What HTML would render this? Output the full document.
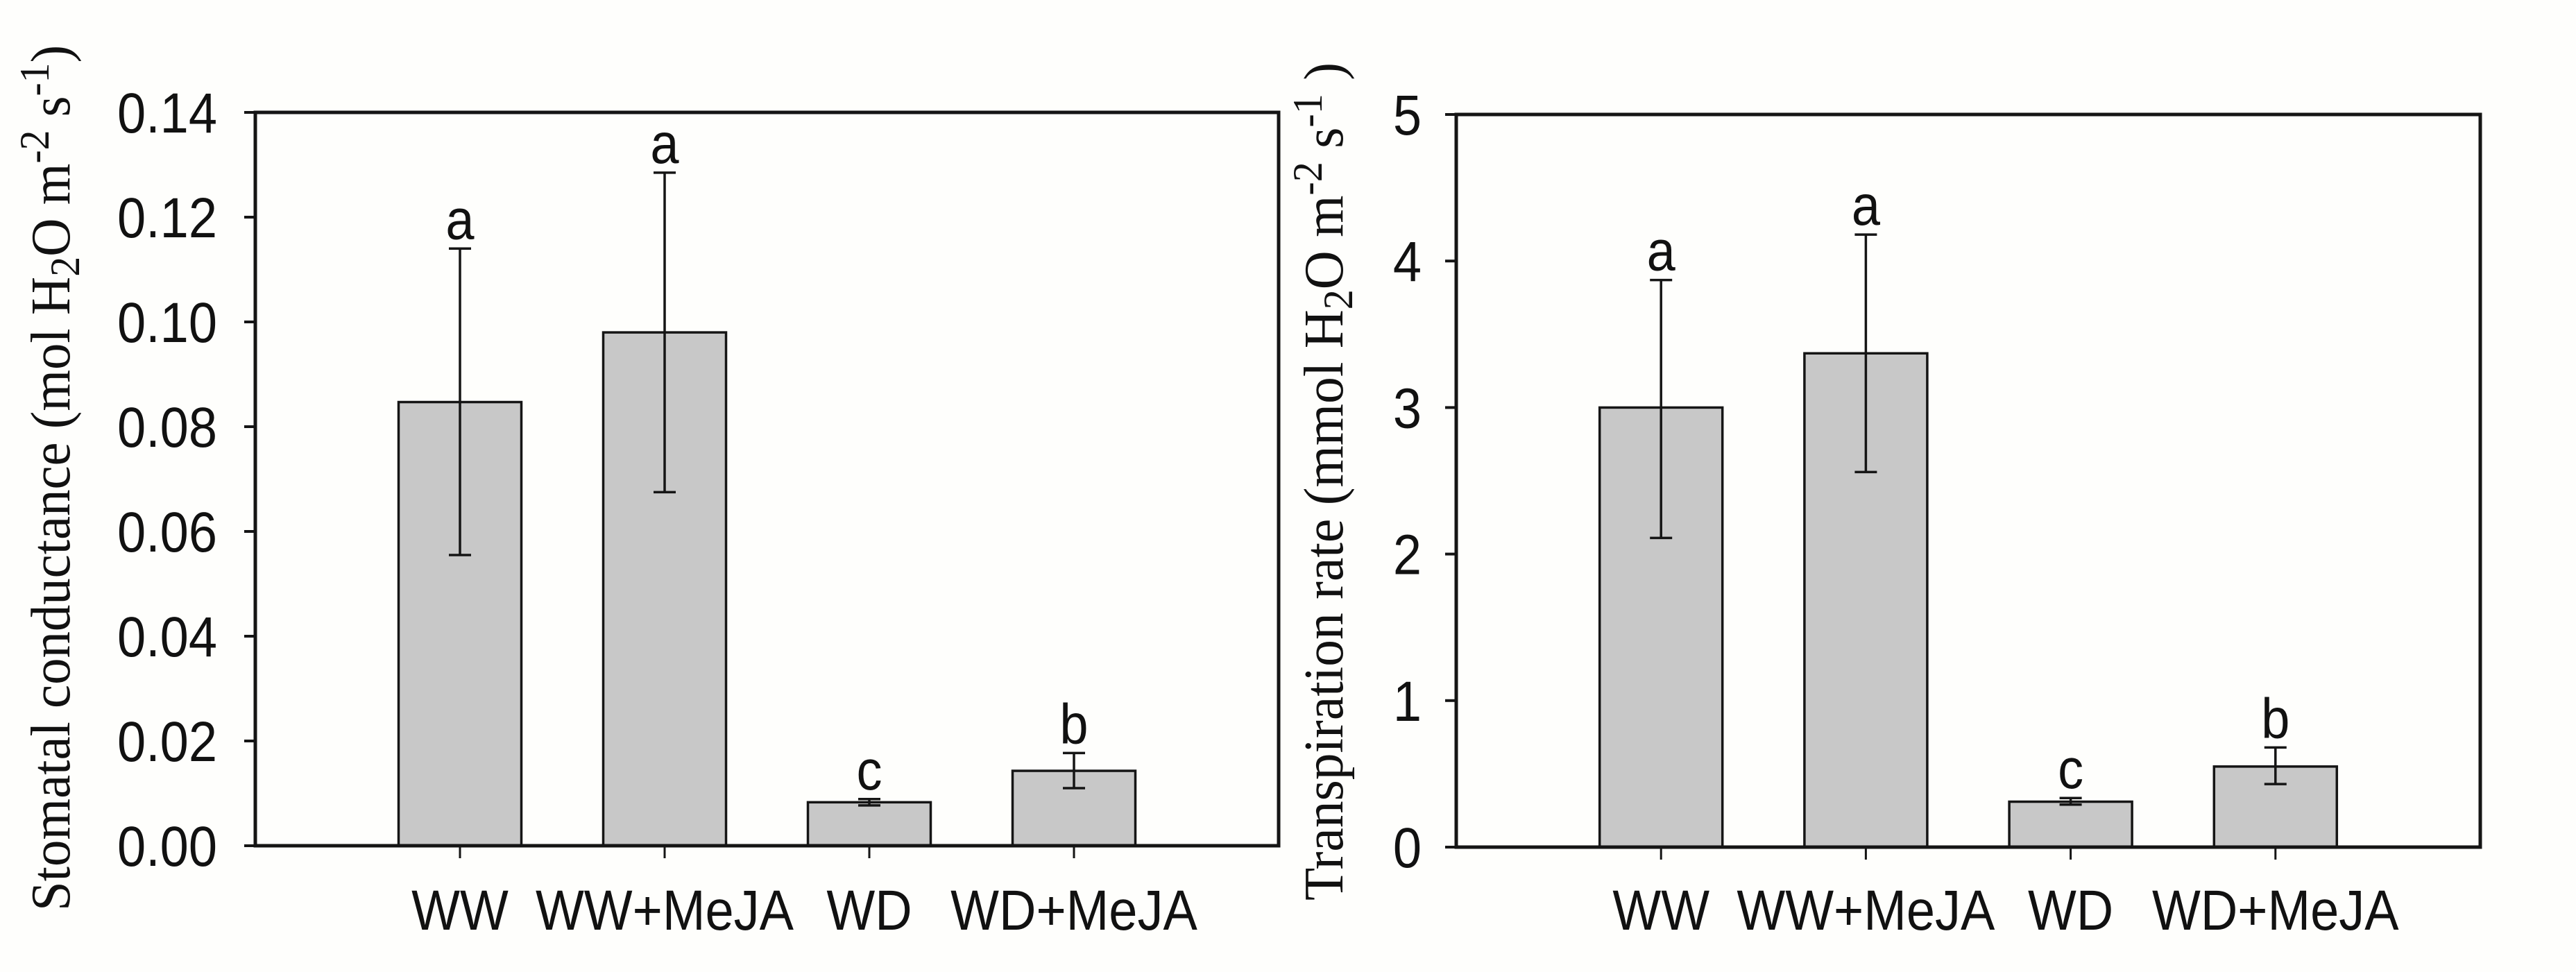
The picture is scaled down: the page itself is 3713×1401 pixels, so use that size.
<!DOCTYPE html>
<html><head><meta charset="utf-8">
<style>html,body{margin:0;padding:0;background:#fefefc;}svg{display:block;}</style>
</head><body>
<svg id="s" xmlns="http://www.w3.org/2000/svg" width="3713" height="1401" viewBox="0 0 3713 1401">
<rect width="3713" height="1401" fill="#fefefc"/>
<text font-family="Liberation Serif, serif" font-size="80" fill="#111" transform="translate(100,1313) rotate(-90)" textLength="1248" lengthAdjust="spacingAndGlyphs">Stomatal conductance (mol H<tspan font-size="60" dy="14">2</tspan><tspan dy="-14">O m</tspan><tspan font-size="60" dy="-30">-2</tspan><tspan dy="30"> s</tspan><tspan font-size="60" dy="-30">-1</tspan><tspan dy="30">)</tspan></text>
<text font-family="Liberation Serif, serif" font-size="80" fill="#111" transform="translate(1935,1298) rotate(-90)" textLength="1208" lengthAdjust="spacingAndGlyphs">Transpiration rate (mmol H<tspan font-size="60" dy="14">2</tspan><tspan dy="-14">O m</tspan><tspan font-size="60" dy="-30">-2</tspan><tspan dy="30"> s</tspan><tspan font-size="60" dy="-30">-1</tspan><tspan dy="30"> )</tspan></text>
</svg>
<script>
var s=document.getElementById('s'),NS='http://www.w3.org/2000/svg';
function el(t,a,txt){var e=document.createElementNS(NS,t);for(var k in a)e.setAttribute(k,a[k]);if(txt!=null)e.textContent=txt;s.appendChild(e);return e;}
function tx(x,y,anchor,str){
  var e=el('text',{x:x,y:y,'font-family':'Liberation Sans, sans-serif','font-size':74,'text-anchor':anchor,fill:'#111'},str);
  var w=e.getComputedTextLength();
  e.setAttribute('font-size',82);
  e.setAttribute('textLength',w);
  e.setAttribute('lengthAdjust','spacingAndGlyphs');
  return e;
}
function plot(L,R,T,B,max,ticks,fmt,labRight,data){
  var sc=(B-T)/max,sp=(R-L)/5,bw=177;
  data.forEach(function(d,i){
    var cx=L+sp*(i+1);
    var y=B-d[0]*sc;
    el('rect',{x:cx-bw/2,y:y,width:bw,height:B-y,fill:'#c8c8c8',stroke:'#151515','stroke-width':3.5});
    var y1=B-d[1]*sc,y2=B-d[2]*sc;
    el('line',{x1:cx,x2:cx,y1:y1,y2:y2,stroke:'#151515','stroke-width':3.5});
    el('line',{x1:cx-16,x2:cx+16,y1:y1,y2:y1,stroke:'#151515','stroke-width':3.5});
    el('line',{x1:cx-16,x2:cx+16,y1:y2,y2:y2,stroke:'#151515','stroke-width':3.5});
    tx(cx,y2-14,'middle',d[3]);
    el('line',{x1:cx,x2:cx,y1:B,y2:B+18,stroke:'#151515','stroke-width':3});
    tx(cx,1340,'middle',d[4]);
  });
  el('rect',{x:L,y:T,width:R-L,height:B-T,fill:'none',stroke:'#151515','stroke-width':5});
  ticks.forEach(function(v){
    var y=B-v*sc;
    el('line',{x1:L-16,x2:L,y1:y,y2:y,stroke:'#151515','stroke-width':4});
    tx(labRight,y+29,'end',fmt(v));
  });
}
plot(368,1843,162,1219,0.14,[0,0.02,0.04,0.06,0.08,0.10,0.12,0.14],function(v){return v.toFixed(2)},313,[
 [0.0847,0.0555,0.1140,'a','WW'],[0.0980,0.0675,0.1285,'a','WW+MeJA'],[0.0083,0.0077,0.0089,'c','WD'],[0.0143,0.0110,0.0177,'b','WD+MeJA']]);
plot(2099,3575,165,1221,5,[0,1,2,3,4,5],function(v){return String(v)},2049,[
 [3.0,2.11,3.87,'a','WW'],[3.37,2.56,4.18,'a','WW+MeJA'],[0.31,0.29,0.335,'c','WD'],[0.55,0.43,0.68,'b','WD+MeJA']]);
</script>
</body></html>
